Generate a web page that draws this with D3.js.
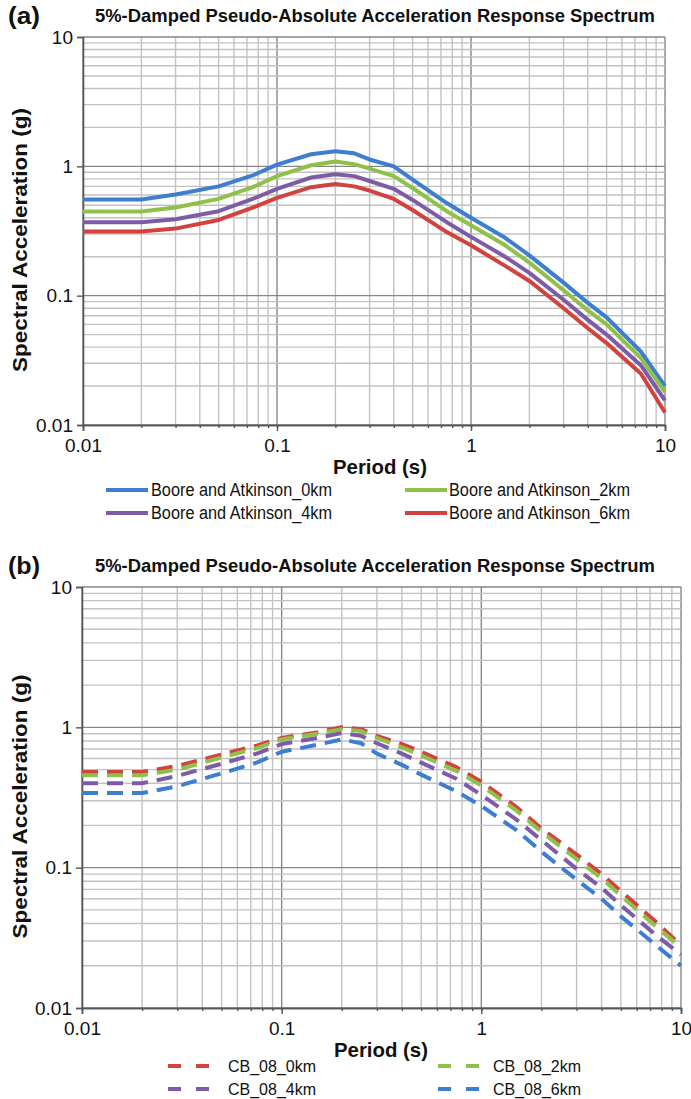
<!DOCTYPE html>
<html>
<head>
<meta charset="utf-8">
<script src="https://cdn.jsdelivr.net/npm/d3@7"></script>
<style>
  body { margin: 0; background: #fff; }
  svg text { font-family: "Liberation Sans", Arial, sans-serif; fill: #111; }
</style>
</head>
<body>
<div class="chart"></div>
<script>
// periods (s) shared by all series
const periods = [0.01, 0.02, 0.03, 0.05, 0.075, 0.1, 0.15, 0.2, 0.25, 0.3, 0.4, 0.5, 0.75, 1, 1.5, 2, 3, 4, 5, 7.5, 10];

// (a) Boore and Atkinson
const baNames = ['Boore and Atkinson_0km', 'Boore and Atkinson_2km', 'Boore and Atkinson_4km', 'Boore and Atkinson_6km'];
const ba0 = [0.555, 0.555, 0.605, 0.70, 0.85, 1.03, 1.24, 1.31, 1.26, 1.13, 1.0, 0.79, 0.52, 0.40, 0.28, 0.205, 0.126, 0.088, 0.068, 0.037, 0.02];
const ba2 = [0.448, 0.448, 0.48, 0.56, 0.69, 0.84, 1.02, 1.09, 1.04, 0.96, 0.84, 0.68, 0.45, 0.35, 0.245, 0.18, 0.11, 0.077, 0.06, 0.033, 0.018];
const ba4 = [0.37, 0.37, 0.39, 0.45, 0.56, 0.67, 0.82, 0.87, 0.84, 0.77, 0.67, 0.55, 0.37, 0.285, 0.2, 0.15, 0.093, 0.065, 0.05, 0.029, 0.0155];
const ba6 = [0.313, 0.313, 0.33, 0.385, 0.48, 0.57, 0.69, 0.73, 0.70, 0.65, 0.56, 0.46, 0.31, 0.245, 0.17, 0.13, 0.08, 0.056, 0.043, 0.025, 0.0125];

// (b) CB_08
const cbNames = ['CB_08_0km', 'CB_08_2km', 'CB_08_4km', 'CB_08_6km'];
const cb0 = [0.48, 0.48, 0.53, 0.64, 0.74, 0.84, 0.92, 1.0, 0.97, 0.87, 0.76, 0.67, 0.52, 0.41, 0.27, 0.19, 0.124, 0.09, 0.068, 0.041, 0.028];
const cb2 = [0.455, 0.455, 0.50, 0.61, 0.71, 0.82, 0.90, 0.97, 0.94, 0.84, 0.72, 0.63, 0.49, 0.385, 0.255, 0.18, 0.115, 0.084, 0.063, 0.038, 0.027];
const cb4 = [0.40, 0.40, 0.45, 0.55, 0.65, 0.76, 0.84, 0.91, 0.87, 0.77, 0.65, 0.56, 0.43, 0.33, 0.22, 0.157, 0.098, 0.072, 0.054, 0.033, 0.024];
const cb6 = [0.34, 0.34, 0.38, 0.47, 0.56, 0.67, 0.75, 0.82, 0.77, 0.65, 0.54, 0.46, 0.35, 0.275, 0.185, 0.13, 0.082, 0.06, 0.045, 0.028, 0.02];

const xTicks = [0.01, 0.1, 1, 10];
const xTickLabels = ['0.01', '0.1', '1', '10'];
const yTicks = [0.01, 0.1, 1, 10];
const yTickLabels = ['0.01', '0.1', '1', '10'];

const title = '5%-Damped Pseudo-Absolute Acceleration Response Spectrum';

const blue = '#3d7ed0', green = '#8fc14a', purple = '#7d5ba6', red = '#d2433f';

const svg = d3.select('.chart')
    .append('svg')
        .attr('width', 691)
        .attr('height', 1099);

function drawPanel(p) {
    const x = d3.scaleLog().domain([0.01, 10]).range([p.left, p.right]);
    const y = d3.scaleLog().domain([0.01, 10]).range([p.bottom, p.top]);
    const g = svg.append('g');

    // grid
    const minor = x.ticks();
    g.selectAll('.vgrid')
        .data(minor)
        .enter()
        .append('line')
        .attr('x1', d => x(d)).attr('x2', d => x(d))
        .attr('y1', p.top).attr('y2', p.bottom)
        .attr('stroke', d => xTicks.includes(d) ? '#868686' : '#c2c2c2')
        .attr('stroke-width', 1.4);
    g.selectAll('.hgrid')
        .data(y.ticks())
        .enter()
        .append('line')
        .attr('x1', p.left).attr('x2', p.right)
        .attr('y1', d => y(d)).attr('y2', d => y(d))
        .attr('stroke', d => yTicks.includes(d) ? '#868686' : '#c2c2c2')
        .attr('stroke-width', 1.4);

    // axes
    const yAxis = d3.axisLeft(y)
        .tickValues(yTicks)
        .tickFormat((d, i) => yTickLabels[i])
        .tickSize(6)
        .tickPadding(4);
    const ya = g.append('g')
        .attr('transform', `translate(${p.left},0)`)
        .call(yAxis);
    const xAxis = d3.axisBottom(x)
        .tickValues(xTicks)
        .tickFormat((d, i) => xTickLabels[i])
        .tickSize(6)
        .tickPadding(8);
    const xa = g.append('g')
        .attr('transform', `translate(0,${p.bottom})`)
        .call(xAxis);
    const xm = g.append('g')
        .attr('transform', `translate(0,${p.bottom})`)
        .call(d3.axisBottom(x).tickValues(minor).tickFormat('').tickSize(3).tickSizeOuter(0));
    [ya, xa, xm].forEach(a => {
        a.select('.domain').attr('stroke', '#555').attr('stroke-width', 1.6);
        a.selectAll('.tick line').attr('stroke', '#555').attr('stroke-width', 1.4);
        a.selectAll('text').style('font-size', '19px').style('font-family', '"Liberation Sans", Arial, sans-serif').attr('fill', '#1a1a1a');
    });

    // curves
    const line = d3.line()
        .x((d, i) => x(periods[i]))
        .y(d => y(d));
    p.series.forEach(s => {
        g.append('path')
            .datum(s.values)
            .attr('fill', 'none')
            .attr('stroke', s.color)
            .attr('stroke-width', 4)
            .attr('stroke-linejoin', 'round')
            .attr('stroke-dasharray', p.dash || null)
            .attr('d', line);
    });

    // titles
    g.append('text')
        .attr('x', 8).attr('y', p.top - 13)
        .style('font-size', '23px')
        .style('font-weight', 'bold')
        .attr('textLength', 32).attr('lengthAdjust', 'spacingAndGlyphs')
        .text(p.label);
    g.append('text')
        .attr('x', 375).attr('y', p.top - 15)
        .attr('text-anchor', 'middle')
        .attr('textLength', 560).attr('lengthAdjust', 'spacingAndGlyphs')
        .style('font-size', '18px').style('font-weight', 'bold')
        .text(title);
    g.append('text')
        .attr('x', p.periodX).attr('y', p.bottom + 49)
        .attr('text-anchor', 'middle')
        .attr('textLength', 94).attr('lengthAdjust', 'spacingAndGlyphs')
        .style('font-size', '21px').style('font-weight', 'bold')
        .text('Period (s)');
    g.append('text')
        .attr('transform', `translate(27,${(p.top + p.bottom) / 2 + 9}) rotate(-90)`)
        .attr('text-anchor', 'middle')
        .attr('textLength', 264).attr('lengthAdjust', 'spacingAndGlyphs')
        .style('font-size', '20px').style('font-weight', 'bold')
        .text('Spectral Acceleration (g)');

    // legend, 2 x 2
    p.series.forEach((s, i) => {
        const col = i % 2, row = Math.floor(i / 2);
        const lx = p.legendX[col], ly = p.legendY + row * p.legendGap;
        g.append('line')
            .attr('x1', lx).attr('x2', lx + p.legendLine)
            .attr('y1', ly).attr('y2', ly)
            .attr('stroke', s.color)
            .attr('stroke-width', 4)
            .attr('stroke-dasharray', p.legendDash || null);
        g.append('text')
            .attr('x', p.legendTextX[col]).attr('y', ly + 6)
            .attr('textLength', p.legendText).attr('lengthAdjust', 'spacingAndGlyphs')
            .style('font-size', p.legendFont)
            .text(s.name);
    });
}

drawPanel({
    label: '(a)',
    left: 83, right: 665, top: 37, bottom: 425,
    periodX: 380,
    series: [
        {name: baNames[0], values: ba0, color: blue},
        {name: baNames[1], values: ba2, color: green},
        {name: baNames[2], values: ba4, color: purple},
        {name: baNames[3], values: ba6, color: red}
    ],
    legendX: [106, 405], legendTextX: [151, 449], legendY: 490, legendGap: 23,
    legendLine: 42, legendText: 181, legendFont: '18px'
});

drawPanel({
    label: '(b)',
    left: 82, right: 681, top: 587, bottom: 1008,
    periodX: 381,
    dash: '16,9',
    series: [
        {name: cbNames[0], values: cb0, color: red},
        {name: cbNames[1], values: cb2, color: green},
        {name: cbNames[2], values: cb4, color: purple},
        {name: cbNames[3], values: cb6, color: blue}
    ],
    legendX: [168, 438], legendTextX: [228, 493], legendY: 1066, legendGap: 23,
    legendLine: 42, legendDash: '13,15', legendText: 88, legendFont: '17px'
});
</script>
</body>
</html>
